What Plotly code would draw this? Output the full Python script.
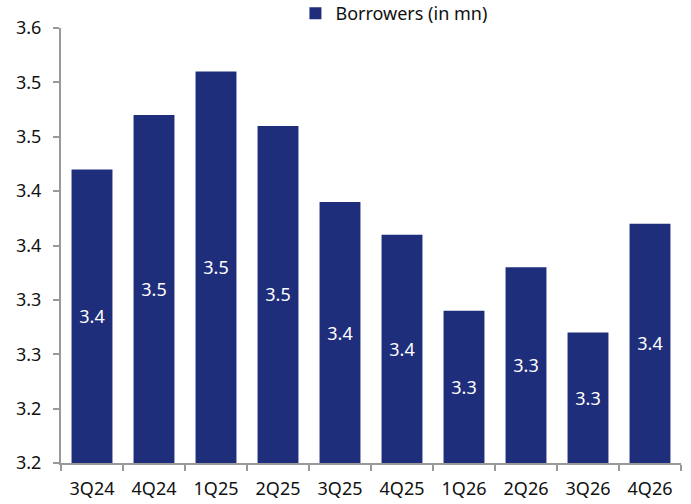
import plotly.graph_objects as go

categories = ["3Q24", "4Q24", "1Q25", "2Q25", "3Q25", "4Q25", "1Q26", "2Q26", "3Q26", "4Q26"]
borrowers = [3.47, 3.52, 3.56, 3.51, 3.44, 3.41, 3.34, 3.38, 3.32, 3.42]
bar_labels = ["3.4", "3.5", "3.5", "3.5", "3.4", "3.4", "3.3", "3.3", "3.3", "3.4"]
tick_vals = [3.20, 3.25, 3.30, 3.35, 3.40, 3.45, 3.50, 3.55, 3.60]
tick_text = ["3.2", "3.2", "3.3", "3.3", "3.4", "3.4", "3.5", "3.5", "3.6"]
axis_base = 3.2

color = "#1f2e7b"
font = "'Noto Sans', 'Open Sans', sans-serif"

fig = go.Figure(go.Bar(
    x=categories, y=[v - axis_base for v in borrowers], base=axis_base,
    name="Borrowers (in mn)",
    marker=dict(color=color, line=dict(width=0)),
    text=bar_labels, textposition="inside", insidetextanchor="middle",
    textfont=dict(color="white", size=18, family=font),
    customdata=borrowers, hovertemplate="%{x}: %{customdata}<extra></extra>",
))

fig.update_layout(
    width=691, height=504,
    margin=dict(l=61, r=10, t=28, b=41, autoexpand=False),
    paper_bgcolor="white", plot_bgcolor="white",
    bargap=0.34,
    showlegend=True,
    legend=dict(orientation="h", x=0.537, xanchor="center", y=1.033, yanchor="middle",
                font=dict(size=18, family=font, color="#111"),
                itemwidth=30, bgcolor="rgba(0,0,0,0)"),
    font=dict(family=font, color="#111"),
)
fig.update_xaxes(
    showline=True, linecolor="#999", linewidth=2,
    ticks="outside", tickson="boundaries", ticklen=6, tickcolor="#999", tickwidth=2,
    tickfont=dict(size=18, family=font, color="#111"), ticklabelstandoff=8,
    showgrid=False, automargin=False,
)
fig.update_yaxes(
    range=[3.2, 3.6], tickvals=tick_vals, ticktext=tick_text,
    showline=True, linecolor="#999", linewidth=2,
    ticks="outside", ticklen=6, tickcolor="#999", tickwidth=2,
    tickfont=dict(size=18, family=font, color="#111"), ticklabelstandoff=8,
    showgrid=False, zeroline=False, automargin=False,
)

fig.write_html("out.html", config={"displayModeBar": False},
               post_script="document.body.style.margin='0';document.body.style.overflow='hidden';")
